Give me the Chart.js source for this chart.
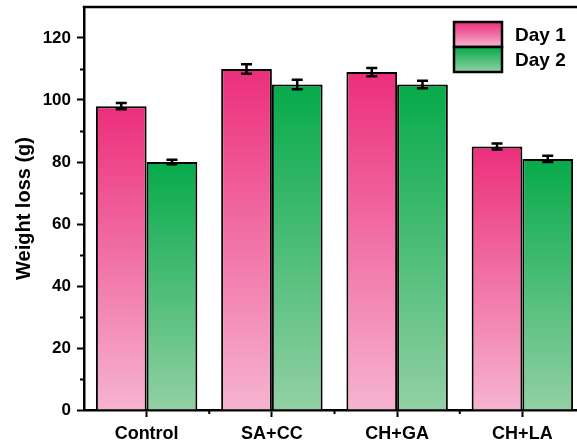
<!DOCTYPE html>
<html>
<head>
<meta charset="utf-8">
<script src="https://cdn.jsdelivr.net/npm/chart.js@4.4.1/dist/chart.umd.min.js"></script>
<style>
  html, body { margin: 0; padding: 0; background: #fff; overflow: hidden; }
  #wrap { position: relative; width: 590px; height: 444px; }
</style>
</head>
<body>
<div id="wrap"><canvas id="c"></canvas></div>
<script>
// Weight loss per coating treatment, two measurement days
const categories = ['Control', 'SA+CC', 'CH+GA', 'CH+LA'];
const seriesNames = ['Day 1', 'Day 2'];
const day1 = [98, 110, 109, 85];
const day2 = [80, 105, 105, 81];
const day1Err = [1, 1.5, 1.3, 1];
const day2Err = [0.7, 1.5, 1.2, 1];
const yTicks = [0, 20, 40, 60, 80, 100, 120];
const yMinorTicks = [10, 30, 50, 70, 90, 110];

const FONT = "'Liberation Sans', Arial, sans-serif";
const PINK = ['rgb(236,46,124)', 'rgb(246,180,208)'];
const GREEN = ['rgb(6,170,74)', 'rgb(146,208,164)'];

// Vertical gradient for each bar: dark at its top, pale at the baseline
function barGradient(colors) {
  return function (ctx) {
    const chart = ctx.chart;
    const ys = chart.scales.y;
    if (ctx.type !== 'data' || !ys || !chart.chartArea) return colors[0];
    const yTop = ys.getPixelForValue(ctx.raw);
    const yBase = ys.getPixelForValue(0);
    const g = chart.ctx.createLinearGradient(0, yTop, 0, yBase);
    g.addColorStop(0, colors[0]);
    g.addColorStop(1, colors[1]);
    return g;
  };
}

const errors = [day1Err, day2Err];
const palette = [PINK, GREEN];

const decor = {
  id: 'decor',
  afterDatasetsDraw(chart) {
    const { ctx, chartArea: a, scales: { x, y } } = chart;
    ctx.save();
    ctx.strokeStyle = '#000';
    ctx.lineCap = 'butt';

    // error bars
    ctx.lineWidth = 2.5;
    errors.forEach((errs, di) => {
      const meta = chart.getDatasetMeta(di);
      const vals = chart.data.datasets[di].data;
      meta.data.forEach((bar, i) => {
        const yHi = y.getPixelForValue(vals[i] + errs[i]);
        const yLo = y.getPixelForValue(vals[i] - errs[i]);
        ctx.beginPath();
        ctx.moveTo(bar.x, yHi); ctx.lineTo(bar.x, yLo);
        ctx.moveTo(bar.x - 5.5, yHi); ctx.lineTo(bar.x + 5.5, yHi);
        ctx.moveTo(bar.x - 5.5, yLo); ctx.lineTo(bar.x + 5.5, yLo);
        ctx.stroke();
      });
    });

    // frame top edge
    ctx.lineWidth = 2.5;
    ctx.beginPath();
    ctx.moveTo(a.left - 1.25, a.top);
    ctx.lineTo(a.right, a.top);
    ctx.stroke();

    // minor ticks
    ctx.lineWidth = 2;
    ctx.beginPath();
    yMinorTicks.forEach(v => {
      const py = Math.round(y.getPixelForValue(v)) + 0.5;
      ctx.moveTo(a.left - 4, py); ctx.lineTo(a.left, py);
    });
    for (let i = 0; i < categories.length - 1; i++) {
      const px = (x.getPixelForValue(i) + x.getPixelForValue(i + 1)) / 2;
      ctx.moveTo(px, a.bottom); ctx.lineTo(px, a.bottom + 4);
    }
    ctx.stroke();

    // legend
    const bx = 454, bw = 48, bh = 25, by0 = 22;
    chart.data.datasets.forEach((ds, di) => {
      const by = by0 + di * bh;
      const g = ctx.createLinearGradient(0, by, 0, by + bh);
      g.addColorStop(0, palette[di][0]);
      g.addColorStop(1, palette[di][1]);
      ctx.fillStyle = g;
      ctx.fillRect(bx, by, bw, bh);
      ctx.lineWidth = 2.5;
      ctx.strokeRect(bx, by, bw, bh);
      ctx.fillStyle = '#000';
      ctx.font = 'bold 19px ' + FONT;
      ctx.textBaseline = 'middle';
      ctx.textAlign = 'left';
      ctx.fillText(ds.label, 515, by + bh / 2 + 1);
    });
    ctx.restore();
  }
};

new Chart(document.getElementById('c'), {
  type: 'bar',
  data: {
    labels: categories,
    datasets: [
      { label: seriesNames[0], data: day1, backgroundColor: barGradient(PINK) },
      { label: seriesNames[1], data: day2, backgroundColor: barGradient(GREEN) }
    ]
  },
  options: {
    responsive: true,
    maintainAspectRatio: false,
    animation: false,
    devicePixelRatio: 1,
    layout: { padding: { top: 7, right: 5, left: 0, bottom: 0 } },
    datasets: {
      bar: {
        borderColor: '#000',
        borderWidth: 2,
        categoryPercentage: 0.81,
        barPercentage: 1
      }
    },
    plugins: {
      legend: { display: false },
      tooltip: { enabled: false }
    },
    scales: {
      x: {
        grid: {
          offset: false,
          drawOnChartArea: false,
          drawTicks: true,
          tickLength: 7,
          tickWidth: 2,
          tickColor: '#000'
        },
        border: { display: true, color: '#000', width: 2.5 },
        ticks: {
          color: '#000',
          font: { family: FONT, size: 18, weight: 'bold' },
          padding: 6,
          maxRotation: 0
        },
        afterFit(s) { s.height = 34; s.paddingLeft = 0; s.paddingRight = 0; }
      },
      y: {
        min: 0,
        max: 130,
        afterBuildTicks(s) { s.ticks = yTicks.map(v => ({ value: v })); },
        grid: {
          drawOnChartArea: false,
          drawTicks: true,
          tickLength: 7,
          tickWidth: 2,
          tickColor: '#000'
        },
        border: { display: true, color: '#000', width: 2.5 },
        ticks: {
          color: '#000',
          font: { family: FONT, size: 17, weight: 'bold' },
          padding: 6
        },
        title: {
          display: true,
          text: 'Weight loss (g)',
          color: '#000',
          font: { family: FONT, size: 20, weight: 'bold' },
          padding: { top: 12, bottom: 0 }
        },
        afterFit(s) { s.width = 84; s.paddingTop = 0; s.paddingBottom = 0; }
      }
    }
  },
  plugins: [decor]
});
</script>
</body>
</html>
